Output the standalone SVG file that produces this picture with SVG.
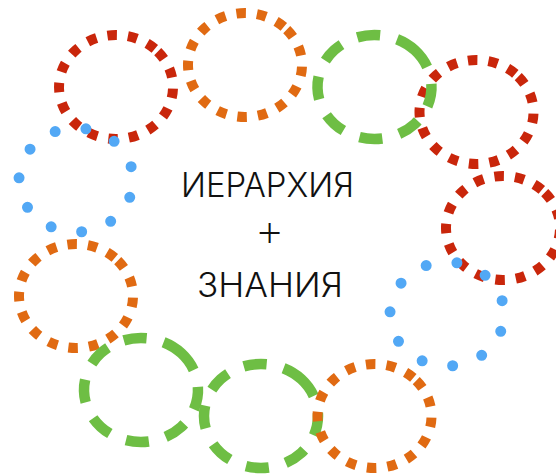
<svg xmlns="http://www.w3.org/2000/svg" xmlns:xlink="http://www.w3.org/1999/xlink" width="556" height="474" viewBox="0 0 556 474">
  <style>
    .ring { fill: none; }
    .sq { stroke-width: 10; stroke-dasharray: 9.5 11.09; stroke-dashoffset: 18.59; stroke-linecap: butt; }
    .dash { stroke-width: 10.5; stroke-dasharray: 23 17.5; stroke-dashoffset: 2; stroke-linecap: butt; }
    .dot { stroke-width: 11; stroke-dasharray: 0 31.182; stroke-dashoffset: 3; stroke-linecap: round; }
    .red { stroke: #C9260B; }
    .orange { stroke: #E06A12; }
    .green { stroke: #6EBE44; }
    .blue { stroke: #52A8F5; }
    .label { font-family: "Helvetica Neue", Inter, "Liberation Sans", sans-serif; font-weight: 300; font-size: 34px; fill: #111; text-anchor: middle; }
    .plus { font-size: 46px; font-weight: 200; }
  </style>
  <defs>
    <!-- one ellipse outline, starting at the upper right (-45deg) and running clockwise -->
    <path id="ring" d="M40.305 -36.770 A57 52 0 0 1 -40.305 36.770 A57 52 0 0 1 40.305 -36.770 Z" pathLength="343"/>
  </defs>

  <g id="ring-red-1"><use href="#ring" class="ring sq red" x="116" y="87"/></g>
  <g id="ring-orange-1"><use href="#ring" class="ring sq orange" x="245" y="65"/></g>
  <g id="ring-red-2"><use href="#ring" class="ring sq red" x="476.5" y="112"/></g>
  <g id="ring-green-1"><use href="#ring" class="ring dash green" x="374.5" y="87"/></g>
  <g id="ring-red-3"><use href="#ring" class="ring sq red" x="503" y="228"/></g>
  <g id="ring-orange-2"><use href="#ring" class="ring sq orange" x="76" y="296"/></g>
  <g id="ring-green-2"><use href="#ring" class="ring dash green" x="141" y="390"/></g>
  <g id="ring-green-3"><use href="#ring" class="ring dash green" x="261" y="416"/></g>
  <g id="ring-orange-3"><use href="#ring" class="ring sq orange" x="374.5" y="416"/></g>
  <g id="ring-blue-1"><use href="#ring" class="ring dot blue" x="76" y="180"/></g>
  <g id="ring-blue-2"><use href="#ring" class="ring dot blue" x="447" y="314"/></g>

  <g id="connectors"></g>

  <g id="title">
    <text class="label" x="267.5" y="197" textLength="173" lengthAdjust="spacingAndGlyphs">ИЕРАРХИЯ</text>
    <text class="label plus" x="269.5" y="246">+</text>
    <text class="label" x="270" y="297" textLength="146" lengthAdjust="spacingAndGlyphs">ЗНАНИЯ</text>
  </g>
</svg>
